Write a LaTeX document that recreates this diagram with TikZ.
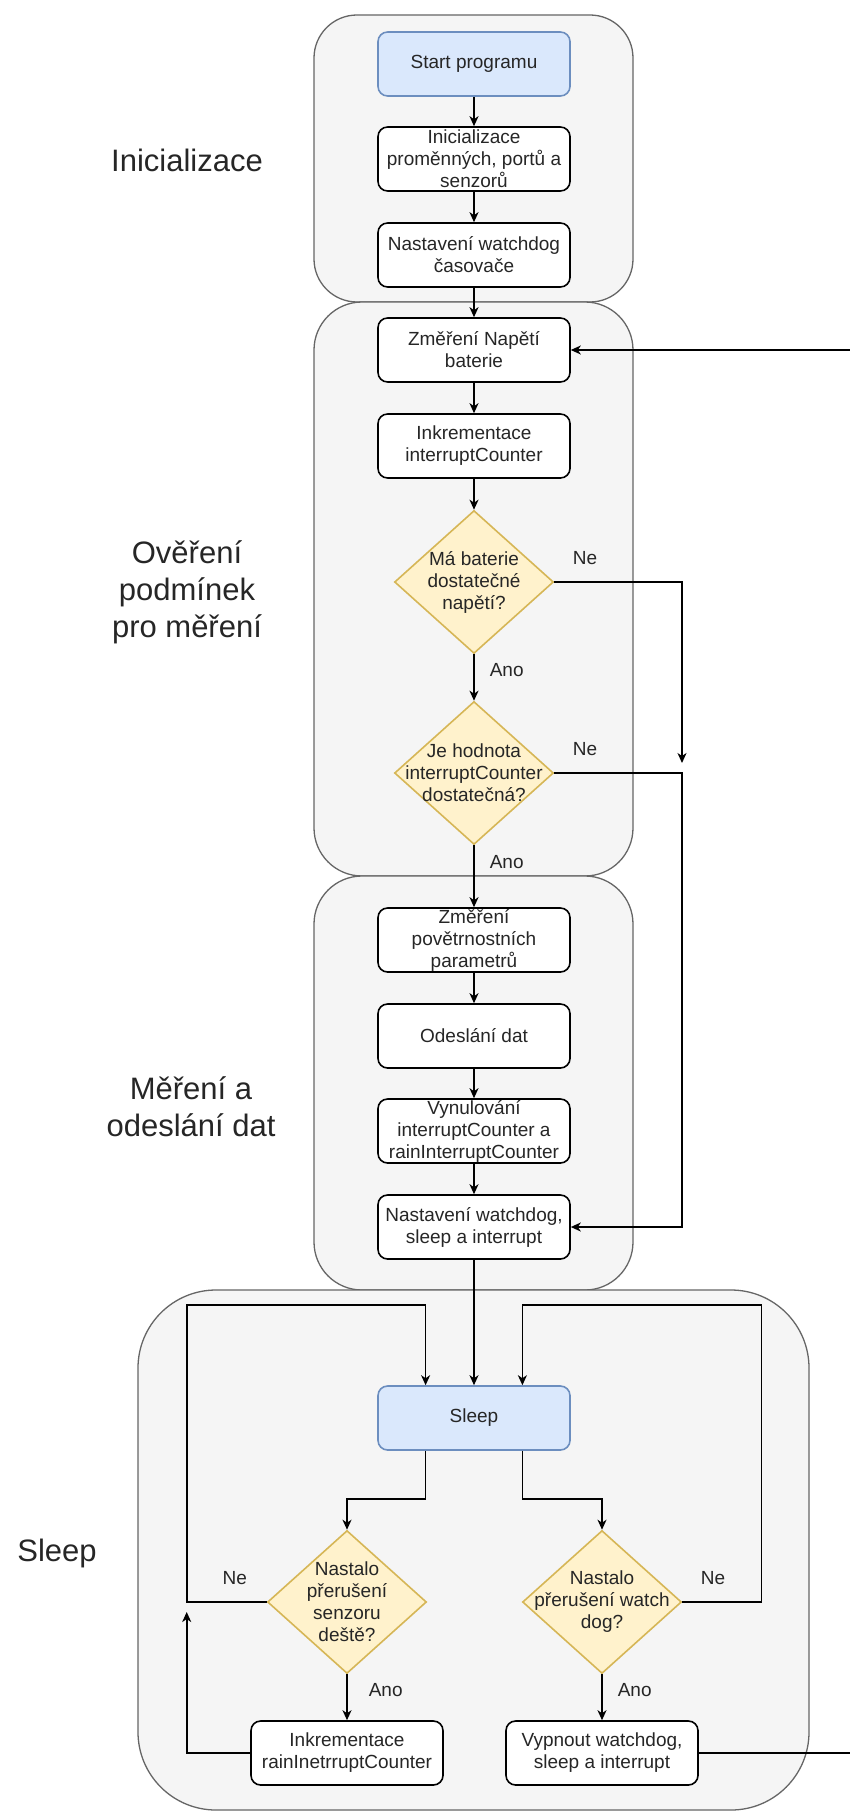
\documentclass[tikz,border=0pt]{standalone}
\usepackage{fontspec}
\setmainfont{Liberation Sans}
\usepackage{tikz}
\usetikzlibrary{positioning, shapes.geometric, arrows.meta, calc, backgrounds}
\definecolor{grpfill}{HTML}{F5F5F5}
\definecolor{grpline}{HTML}{666666}
\definecolor{bluefill}{HTML}{DAE8FC}
\definecolor{blueline}{HTML}{6C8EBF}
\definecolor{decfill}{HTML}{FFF2CC}
\definecolor{decline}{HTML}{D6B656}
\newcommand{\boxfont}{\fontsize{19}{22}\selectfont}
\newcommand{\grpfont}{\fontsize{31}{37}\selectfont}

\begin{document}
\begin{tikzpicture}[
    x=1pt, y=1pt,
    node distance=96pt,
    on grid,
    every node/.style={text=black!85},
    box/.style={rectangle, rounded corners=9.6pt, draw=black, fill=white, line width=1.6pt,
        minimum width=192pt, minimum height=64pt, inner sep=0pt, align=center, font=\boxfont},
    terminal/.style={box, draw=blueline, fill=bluefill},
    decision/.style={diamond, draw=decline, fill=decfill, line width=1.6pt,
        minimum width=159pt, minimum height=143pt, inner sep=0pt},
    dtext/.style={align=center, font=\boxfont, inner sep=0pt},
    lbl/.style={font=\boxfont, inner sep=0pt},
    group/.style={draw=grpline, fill=grpfill, line width=1.3pt},
    grouplabel/.style={align=center, font=\grpfont, inner sep=0pt},
    arr/.style={line width=1.6pt, -{Stealth[length=10pt, width=9pt, inset=3pt]}}
]
    \useasboundingbox (0,0) rectangle (850,-1814);
    \clip (0,0) rectangle (850,-1814);

    % Main column
    \node[terminal] (start) at (474,-64) {Start programu};
    \node[box, below=95pt of start] (init) {Inicializace\\proměnných, portů a\\senzorů};
    \node[box, below=of init] (wdog_set) {Nastavení watchdog\\časovače};
    \node[box, below=95pt of wdog_set] (volt) {Změření Napětí\\baterie};
    \node[box, below=of volt] (cnt_inc) {Inkrementace\\interruptCounter};
    \node[decision, below=136pt of cnt_inc,
        label={[dtext]center:{Má baterie\\dostatečné\\napětí?}}] (volt_ok) {};
    \node[decision, below=191pt of volt_ok,
        label={[dtext]center:{Je hodnota\\interruptCounter\\dostatečná?}}] (cnt_ok) {};
    \node[box, below=167pt of cnt_ok] (measure) {Změření\\povětrnostních\\parametrů};
    \node[box, below=of measure] (send) {Odeslání dat};
    \node[box, below=95pt of send] (reset) {Vynulování\\interruptCounter a\\rainInterruptCounter};
    \node[box, below=of reset] (sleep_set) {Nastavení watchdog,\\sleep a interrupt};

    % Sleep part
    \node[terminal, below=191pt of sleep_set] (sleep) {Sleep};
    \node[decision, below left=184pt and 127pt of sleep,
        label={[dtext]center:{Nastalo\\přerušení\\senzoru\\deště?}}] (rain_int) {};
    \node[decision, below right=184pt and 128pt of sleep,
        label={[dtext]center:{Nastalo\\přerušení watch\\dog?}}] (wdog_int) {};
    \node[box, below=151pt of rain_int] (rain_inc) {Inkrementace\\rainInetrruptCounter};
    \node[box, below=151pt of wdog_int] (wdog_off) {Vypnout watchdog,\\sleep a interrupt};

    % Group captions
    \node[grouplabel] (lab_init) at (187,-160) {Inicializace};
    \node[grouplabel] (lab_check) at (187,-592) {Ověření\\podmínek\\pro měření};
    \node[grouplabel] (lab_meas) at (191,-1107) {Měření a\\odeslání dat};
    \node[grouplabel] (lab_sleep) at (57,-1553) {Sleep};

    % Helper points
    \coordinate (no_join) at ($(volt_ok)+(208,-181)$);
    \coordinate (sleep_inl) at ($(sleep.north)!.5!(sleep.north west)$);
    \coordinate (sleep_inr) at ($(sleep.north)!.5!(sleep.north east)$);
    \coordinate (sleep_outl) at ($(sleep.south)!.5!(sleep.south west)$);
    \coordinate (sleep_outr) at ($(sleep.south)!.5!(sleep.south east)$);
    \coordinate (loop_l) at ($(rain_int.west |- sleep.north)+(-80,80)$);
    \coordinate (loop_r) at ($(wdog_int.east |- sleep.north)+(79,80)$);
    \coordinate (rain_up) at ($(loop_l |- rain_int.west)+(0,-10)$);
    \coordinate (back_r) at ($(wdog_off.east)+(180,0)$);

    % Transitions
    \path[arr]
        (start) edge (init)
        (init) edge (wdog_set)
        (wdog_set) edge (volt)
        (volt) edge (cnt_inc)
        (cnt_inc) edge (volt_ok)
        (volt_ok) edge node[lbl, pos=.35, right=15pt] {Ano} (cnt_ok)
        (cnt_ok) edge node[lbl, pos=.27, right=15pt] {Ano} (measure)
        (measure) edge (send)
        (send) edge (reset)
        (reset) edge (sleep_set)
        (sleep_set) edge (sleep)
        (rain_int) edge node[lbl, pos=.35, right=21pt] {Ano} (rain_inc)
        (wdog_int) edge node[lbl, pos=.35, right=15pt] {Ano} (wdog_off);

    \draw[arr] (volt_ok.east) -- node[lbl, pos=.24, above=17pt] {Ne} (volt_ok.east -| no_join) -- (no_join);
    \draw[arr] (cnt_ok.east) -- node[lbl, pos=.24, above=17pt] {Ne} (cnt_ok.east -| no_join) |- (sleep_set.east);
    \draw[arr] (sleep_outl) -- ++(0,-48) -| (rain_int.north);
    \draw[arr] (sleep_outr) -- ++(0,-48) -| (wdog_int.north);
    \draw[arr] (rain_int.west) -- node[lbl, pos=.4, above=17pt] {Ne} (rain_int.west -| loop_l) -- (loop_l) -| (sleep_inl);
    \draw[arr] (wdog_int.east) -- node[lbl, pos=.39, above=17pt] {Ne} (wdog_int.east -| loop_r) -- (loop_r) -| (sleep_inr);
    \draw[arr] (rain_inc.west) -| (rain_up);
    \draw[arr] (wdog_off.east) -- (back_r) |- (volt.east);

    % Groups
    \begin{scope}[on background layer]
        \draw[group, rounded corners=43pt] (314,-15) rectangle (633,-302);
        \draw[group, rounded corners=48pt] (314,-302) rectangle (633,-876);
        \draw[group, rounded corners=48pt] (314,-876) rectangle (633,-1290);
        \draw[group, rounded corners=78pt] (138,-1290) rectangle (809,-1810);
    \end{scope}
\end{tikzpicture}
\end{document}
